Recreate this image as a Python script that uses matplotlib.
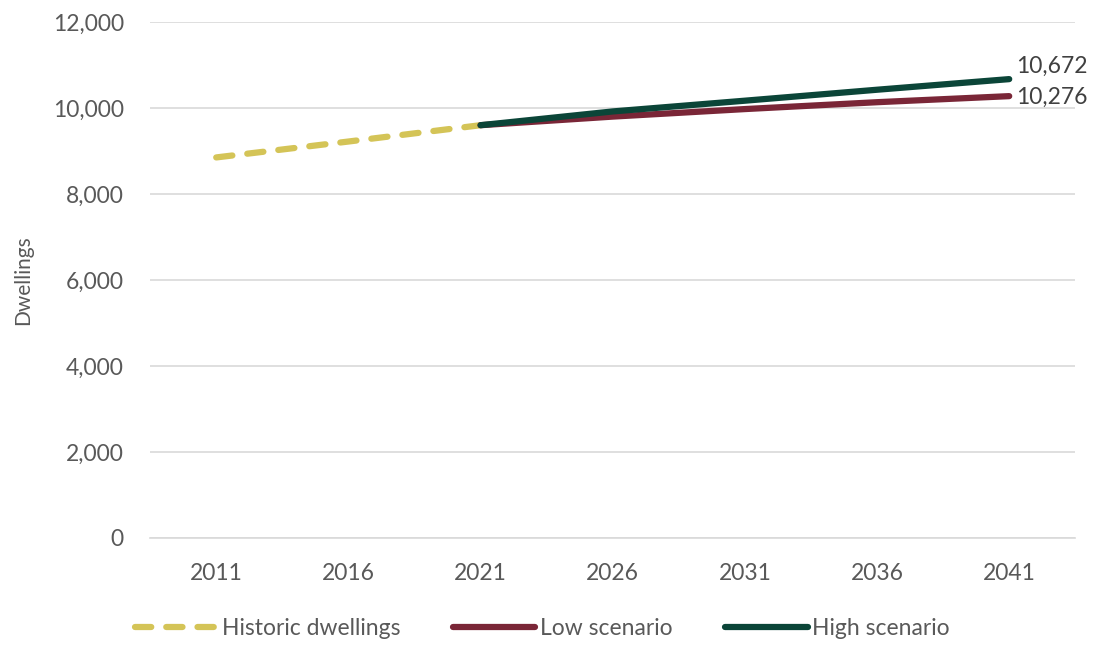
import matplotlib
matplotlib.use('Agg')
import matplotlib.pyplot as plt
import numpy as np

years = ['2011', '2016', '2021', '2026', '2031', '2036', '2041']
historic = [8850, 9220, 9600]
low = [9600, 9800, 9975, 10135, 10276]
high = [9600, 9920, 10170, 10425, 10672]

plt.rcParams['font.family'] = ['Lato', 'DejaVu Sans']
grey = '#595959'

fig = plt.figure(figsize=(11.04, 6.48), dpi=100)
ax = fig.add_axes([0.136, 0.170, 0.838, 0.796])

x = np.arange(len(years))
ax.plot(x[:3], historic, color='#D4C457', lw=4.5, ls=(0, (2.6, 2.4)),
        solid_capstyle='round', dash_capstyle='round', label='Historic dwellings', zorder=3)
ax.plot(x[2:], low, color='#7A2637', lw=4.5, solid_capstyle='round',
        label='Low scenario', zorder=3)
ax.plot(x[2:], high, color='#0B4538', lw=4.5, solid_capstyle='round',
        label='High scenario', zorder=4)

ax.annotate(f'{high[-1]:,}', (x[-1], high[-1]), xytext=(5, 9), textcoords='offset points',
            fontsize=16.5, color='#404040', va='center', ha='left')
ax.annotate(f'{low[-1]:,}', (x[-1], low[-1]), xytext=(5, -1), textcoords='offset points',
            fontsize=16.5, color='#404040', va='center', ha='left')

ax.set_xlim(-0.5, len(years) - 0.5)
ax.set_ylim(0, 12000)
ax.set_yticks(range(0, 12001, 2000))
ax.set_yticklabels([f'{v:,}' for v in range(0, 12001, 2000)])
ax.set_xticks(x)
ax.set_xticklabels(years)
ax.tick_params(axis='both', length=0, labelsize=16.5, colors=grey)
ax.tick_params(axis='y', pad=19)
ax.tick_params(axis='x', pad=18)
ax.yaxis.grid(True, color='#D9D9D9', lw=1.2)
ax.set_axisbelow(True)
for s in ['top', 'right', 'left']:
    ax.spines[s].set_visible(False)
ax.spines['bottom'].set_color('#D9D9D9')
ax.spines['bottom'].set_linewidth(1.2)
ax.set_ylabel('Dwellings', fontsize=15, color=grey, labelpad=14)

ax.legend(loc='upper center', bbox_to_anchor=(0.424, -0.115), ncol=3, frameon=False,
          fontsize=16.5, labelcolor=grey, handlelength=3.6, handletextpad=0.2, columnspacing=2.3)

fig.savefig('out.png', dpi=100, facecolor='white')
